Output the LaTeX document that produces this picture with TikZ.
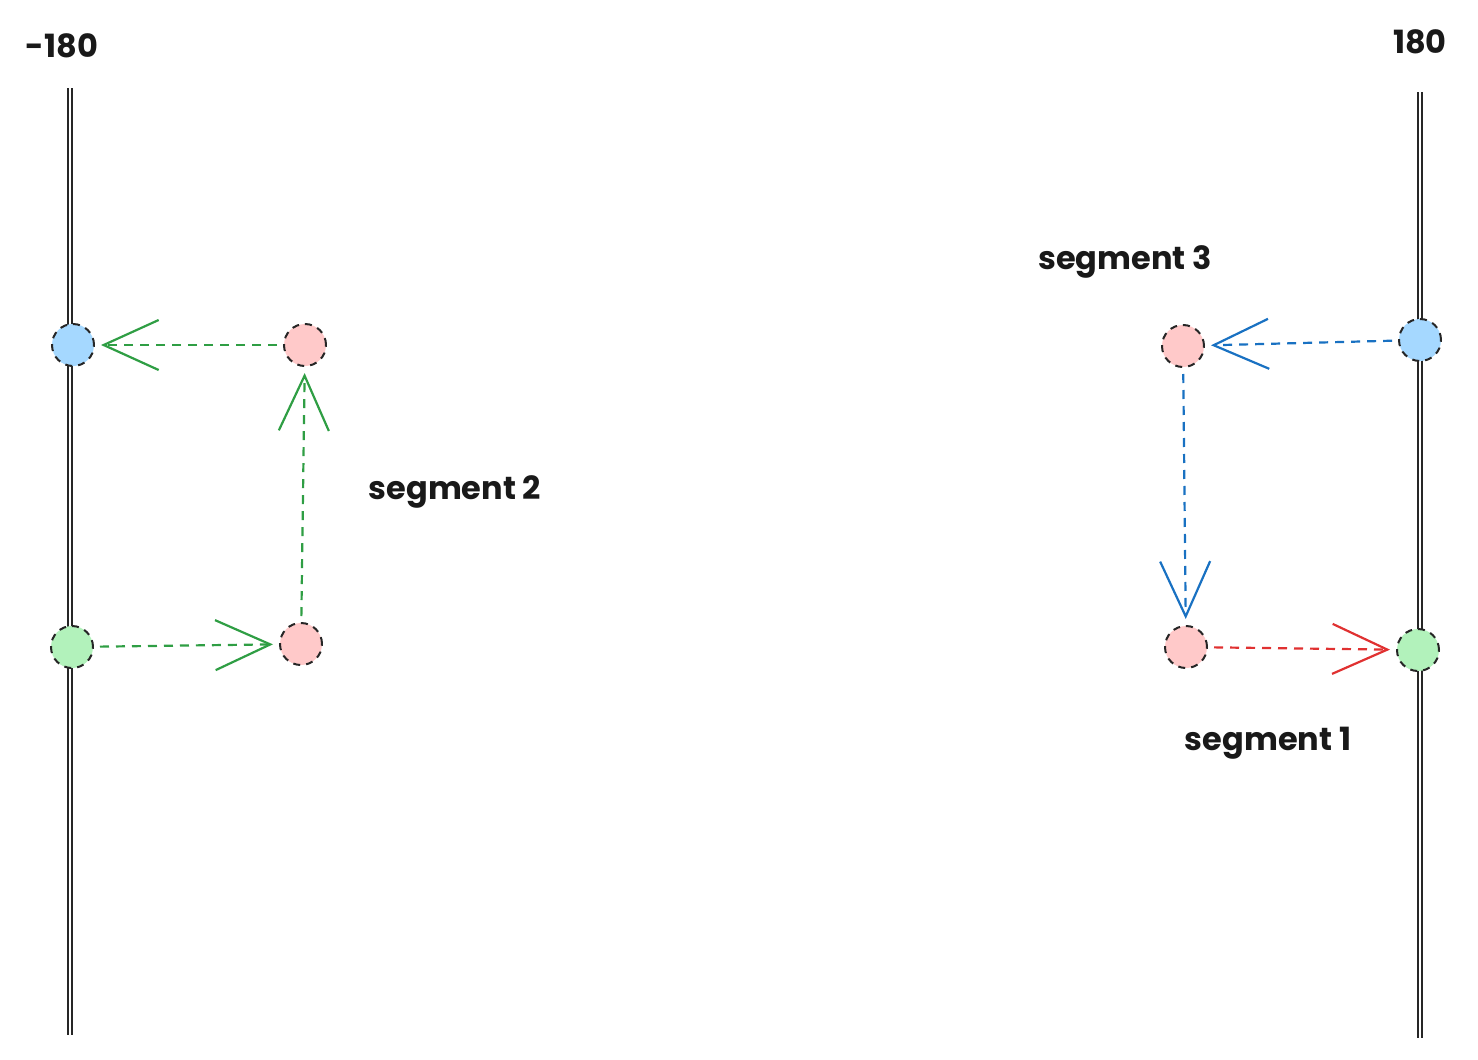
\documentclass[tikz,border=0pt]{standalone}
\usepackage{fontspec}
\setmainfont{Poppins}
\usetikzlibrary{arrows.meta}
\definecolor{gr}{HTML}{2F9E44}
\definecolor{bl}{HTML}{1971C2}
\definecolor{rd}{HTML}{E03131}
\definecolor{pk}{HTML}{FFC9C9}
\definecolor{lb}{HTML}{A5D8FF}
\definecolor{lg}{HTML}{B2F2BB}
\begin{document}
\begin{tikzpicture}[x=1pt,y=-1pt,
  pt/.style={circle,minimum size=42pt,inner sep=0pt,draw=black!85,line width=2pt,dash pattern=on 7pt off 6pt},
  conn/.style={line width=2.2pt,dash pattern=on 9pt off 7pt,shorten >=6pt,shorten <=6pt,-{Straight Barb[length=55pt,width=50pt,line width=2.2pt]}},
  lab/.style={font=\fontsize{32}{36}\selectfont\bfseries,text=black!90},
  axis/.style={double=white,double distance=2pt,line width=1.6pt,black!85}]
\useasboundingbox (0,0) rectangle (1478,1060);
\draw[axis] (70,88) -- (70,1035);
\draw[axis] (1420,92) -- (1420,1038);
\node[lab] (lm) at (62,46) {-180};
\node[lab] (lp) at (1420,42) {180};
\node[pt,fill=lb] (a) at (73,345) {};
\node[pt,fill=pk] (b) at (305,345) {};
\node[pt,fill=lg] (c) at (72,647) {};
\node[pt,fill=pk] (d) at (301,644) {};
\node[pt,fill=pk] (e) at (1183,346) {};
\node[pt,fill=lb] (f) at (1420,340) {};
\node[pt,fill=pk] (g) at (1186,647) {};
\node[pt,fill=lg] (h) at (1418,650) {};
\draw[conn,gr] (c) -- (d);
\draw[conn,gr] (d) -- (b);
\draw[conn,gr] (b) -- (a);
\draw[conn,bl] (f) -- (e);
\draw[conn,bl] (e) -- (g);
\draw[conn,rd] (g) -- (h);
\node[lab] (s2) at (455,492) {segment 2};
\node[lab] (s3) at (1125,262) {segment 3};
\node[lab] (s1) at (1268,743) {segment 1};
\end{tikzpicture}
\end{document}
